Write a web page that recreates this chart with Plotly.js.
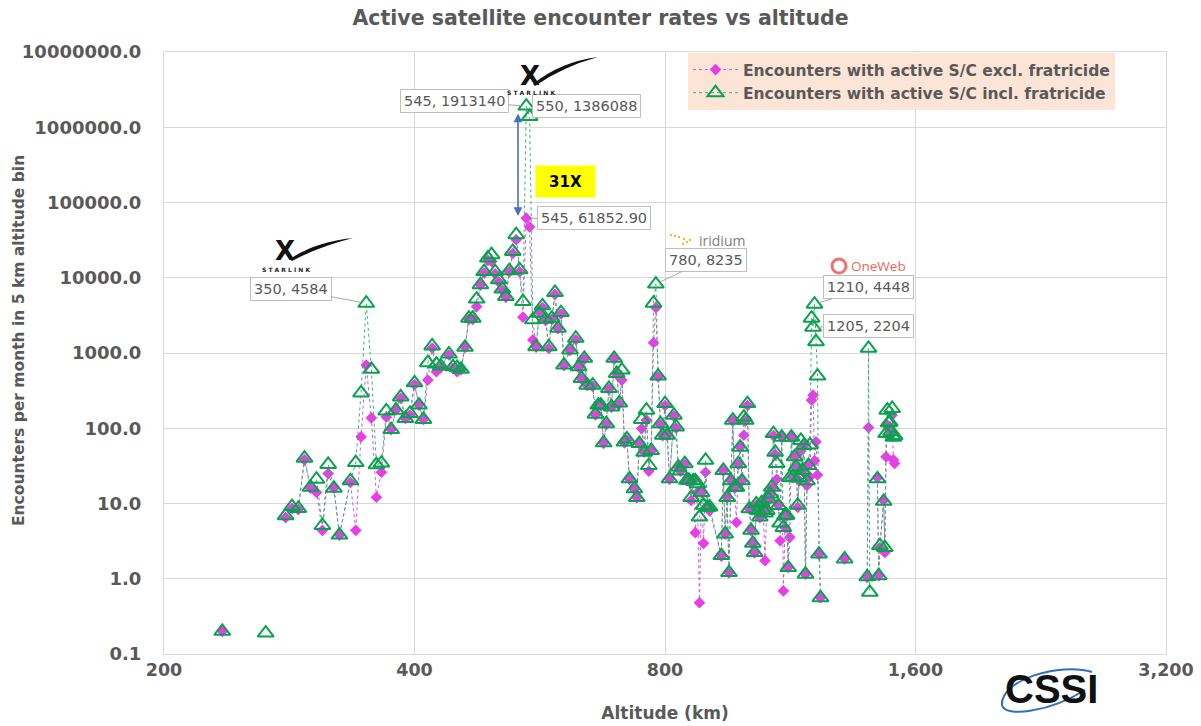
<!DOCTYPE html>
<html>
<head>
<meta charset="utf-8">
<script src="https://cdn.plot.ly/plotly-3.0.1.min.js"></script>
<style>html,body{margin:0;padding:0;background:#fff;}#chart{width:1201px;height:726px;}</style>
</head>
<body>
<div id="chart"></div>
<script>
// ---------------- DATA ----------------
const altitudeKm = [235,250,265,272,280,285,290,295,300,305,310,315,320,325,335,340,345,350,355,360,365,370,375,380,385,390,395,400,405,410,415,420,425,430,440,445,450,455,460,465,470,475,480,485,490,495,500,505,510,515,520,525,530,535,540,545,550,555,560,565,570,575,580,585,590,595,600,605,615,625,630,635,640,645,655,660,665,670,675,680,685,690,695,700,705,710,715,720,725,735,740,745,750,755,760,765,770,775,780,785,790,795,800,805,810,820,825,830,835,845,850,855,860,865,870,875,880,885,890,895,900,905,935,940,945,950,955,960,965,970,975,980,985,990,995,1000,1005,1010,1015,1020,1025,1030,1035,1040,1045,1050,1055,1060,1065,1070,1075,1080,1085,1090,1095,1100,1105,1110,1115,1120,1125,1130,1135,1140,1145,1150,1155,1160,1165,1170,1175,1180,1185,1190,1195,1200,1205,1210,1215,1220,1225,1230,1270,1315,1360,1400,1405,1410,1425,1440,1445,1450,1465,1470,1475,1480,1485,1490,1495,1500,1505,1510];

const exclFratricide = [0.2,null,null,null,6.5,8.6,8.3,38,16,14,4.4,25,16,3.8,19,4.4,77,692,137,12.1,26,141,96,175,250,135,150,380,203,131,437,1166,565,640,940,620,565,600,1190,2800,2800,4140,8000,11500,17000,16500,11300,8800,6800,5500,12000,21000,32000,12000,2990,61852.90,47400,1490,1200,3500,4000,2700,1150,2800,6000,2100,3300,680,1080,1500,640,450,830,370,360,150,200,200,63,112,330,190,830,520,210,437,64,70,21,15.5,12,62,99,48,128,27,50,1370,4000,480,112,80,200,80,21,145,100,30,27,33,20,20,11,20,4.1,14,0.48,14,2.96,26,8.9,8,2,27,3.9,12,1.2,20,125,16,5.6,33,56,20,80.7,125,200,8.5,4.4,2.9,2.2,9.5,8,6.5,10,8,1.74,8,11,13,16,80,45,21,9.4,3.2,76,0.69,4.8,6.9,1.41,3.55,76,22,41,30,8.9,20,50,27,59,1.15,17.4,32,22.5,236,275,37,66,24,2.1,0.56,null,1.83,null,1.04,102,null,null,22,1.1,2.6,11,2.24,41.7,110,100,105,85,150,38,34];

const inclFratricide = [0.2,null,0.19,null,6.9,9.1,8.6,40,16.5,21,5.1,33,16,3.8,20,35,295,4584,607,32.8,34.5,170,96,174,261,135,157,402,203,131,744,1240,713,670,970,656,645,607,1190,2900,2900,5200,8070,12100,18300,20280,12100,9400,7070,5640,12400,22400,37400,12800,4830,1913140,1386088,2760,1214,3380,4230,2810,1214,2900,6370,2135,3440,692,1100,1570,656,460,850,374,374,154,203,203,64,115,338,192,850,536,217,593,65.6,72,21.3,15.7,12,62.5,131,48,174,32,50.6,4600,8235,493,115,80.7,213,80.7,21.3,149,104,30.5,27,33.8,20.3,20.3,12,20,20,18.3,6.6,14,9.5,37.5,8.9,9,2.03,27.5,3.94,12,1.21,20,128,16.5,16.5,33.8,56,20,141,128,213,8.5,4.4,2.96,2.24,9.9,8.1,6.6,10.2,8.1,7.5,8.1,11.5,13.4,16.5,85,48,34,9.4,5.5,76,4.8,6.9,7,1.41,22,76,22.5,41.7,30.5,9.5,22,69,27.5,59,1.15,20,32,60,2900,2204,4448,1415,493,2.13,0.56,null,1.83,null,1.06,1155,0.66,null,21.3,1.1,2.75,10.7,2.6,85,174,118,121,90,183,76,80];

const seriesNames = ['Encounters with active S/C excl. fratricide', 'Encounters with active S/C incl. fratricide'];

const xTickVals = [200, 400, 800, 1600, 3200];
const xTickText = ['200', '400', '800', '1,600', '3,200'];
const yTickVals = [0.1, 1, 10, 100, 1000, 10000, 100000, 1000000, 10000000];
const yTickText = ['0.1', '1.0', '10.0', '100.0', '1000.0', '10000.0', '100000.0', '1000000.0', '10000000.0'];

// labelled points: altitude + which series
const calloutAlt = [545, 550, 545, 350, 780, 1210, 1205];
const calloutSeries = ['incl', 'incl', 'excl', 'incl', 'incl', 'incl', 'incl'];

// ---------------- STYLE / LAYOUT ----------------
const calloutOffset = [[-72,-5],[57,-11],[68,0],[-75,-14],[50,-24],[54,-17],[55,-1]];
const GRAY = '#595959';
const PL = 164, PR = 1166, PT = 52, PB = 654;
const px = x => (x - PL) / (PR - PL);
const py = y => (PB - y) / (PB - PT);

const traceExcl = {
  x: altitudeKm, y: exclFratricide, name: seriesNames[0], type: 'scatter', mode: 'lines+markers',
  line: {color: '#c95ad6', width: 1, dash: 'dot'},
  marker: {symbol: 'diamond', size: 9, color: '#e83de8', line: {width: 0}},
  connectgaps: false, cliponaxis: false
};
const traceIncl = {
  x: altitudeKm, y: inclFratricide, name: seriesNames[1], type: 'scatter', mode: 'lines+markers',
  line: {color: '#3bb273', width: 1, dash: 'dot'},
  marker: {symbol: 'triangle-up-open', size: 14, color: '#0aa24f', line: {width: 2, color: '#0aa24f'}},
  connectgaps: false, cliponaxis: false
};

const annotations = [];
calloutAlt.forEach((a, i) => {
  const idx = altitudeKm.indexOf(a);
  const isExcl = calloutSeries[i] === 'excl';
  const v = isExcl ? exclFratricide[idx] : inclFratricide[idx];
  const txt = a + ', ' + (isExcl ? v.toFixed(2) : String(v));
  annotations.push({
    x: Math.log10(a), y: Math.log10(v), xref: 'x', yref: 'y',
    text: txt, showarrow: true, arrowhead: 0, arrowwidth: 1, arrowcolor: '#a6a6a6',
    ax: calloutOffset[i][0], ay: calloutOffset[i][1], standoff: 5,
    font: {family: 'DejaVu Sans', size: 14.5, color: GRAY},
    bgcolor: '#ffffff', bordercolor: '#bfbfbf', borderwidth: 1, borderpad: 3
  });
});

// 31X box
annotations.push({xref:'paper', yref:'paper', x: px(565.5), y: py(165), text: '<b>31X</b>', showarrow: false,
  font: {family: 'DejaVu Sans', size: 15, color: '#000'}, bgcolor: '#ffff00', width: 57, height: 29, valign: 'middle'});
// double arrow
annotations.push({xref:'paper', yref:'paper', x: px(518), y: py(216), ax: 0, ay: -104, text: '', showarrow: true,
  arrowhead: 2, arrowside: 'end+start', arrowsize: 1.1, arrowwidth: 1.6, arrowcolor: '#4472c4', standoff: 0, startstandoff: 0});
// y axis title
annotations.push({xref:'paper', yref:'paper', x: px(19), y: py(341), text: '<b>Encounters per month in 5 km altitude bin</b>',
  textangle: -90, showarrow: false, font: {family: 'DejaVu Sans', size: 15.5, color: GRAY}, xanchor: 'center', yanchor: 'middle'});
// logos as text
const logoText = [
  {x: 530, y: 76, t: '<b>X</b>', s: 26, c: '#111', f: 'DejaVu Sans'},
  {x: 531, y: 93, t: '<b>S T A R L I N K</b>', s: 6, c: '#222', f: 'DejaVu Sans'},
  {x: 285, y: 251, t: '<b>X</b>', s: 26, c: '#111', f: 'DejaVu Sans'},
  {x: 286, y: 269, t: '<b>S T A R L I N K</b>', s: 6, c: '#222', f: 'DejaVu Sans'},
  {x: 722, y: 240, t: 'iridium', s: 14, c: '#808080', f: 'Open Sans'},
  {x: 878, y: 266, t: 'OneWeb', s: 13.5, c: '#f06464', f: 'Open Sans'},
  {x: 1051, y: 689, t: '<b>CSSI</b>', s: 40, c: '#111', f: 'Liberation Sans'}
];
logoText.forEach(l => annotations.push({xref:'paper', yref:'paper', x: px(l.x), y: py(l.y), text: l.t, showarrow: false,
  font: {family: l.f, size: l.s, color: l.c}, xanchor: 'center', yanchor: 'middle'}));

function swoosh(pts) {
  const p = pts.map(q => px(q[0]).toFixed(4) + ',' + py(q[1]).toFixed(4));
  return 'M' + p[0] + ' Q' + p[1] + ' ' + p[2] + ' Q' + p[3] + ' ' + p[4] + ' Z';
}
function ring(pts) {
  const p = pts.map(q => px(q[0]).toFixed(4) + ',' + py(q[1]).toFixed(4));
  return 'M' + p[0] + ' C' + p[1] + ' ' + p[2] + ' ' + p[3] + ' C' + p[4] + ' ' + p[5] + ' ' + p[6];
}
const shapes = [
  {type: 'path', xref: 'paper', yref: 'paper', path: swoosh([[533,84],[560,62],[598,57],[562,67],[535,86]]), fillcolor: '#111', line: {width: 0}},
  {type: 'path', xref: 'paper', yref: 'paper', path: swoosh([[290,259],[315,242],[353,238],[318,247],[292,261]]), fillcolor: '#111', line: {width: 0}},
  {type: 'circle', xref: 'paper', yref: 'paper', x0: px(832), x1: px(846), y0: py(273), y1: py(259), line: {color: '#f07272', width: 3}},
  {type: 'path', xref: 'paper', yref: 'paper', path: ring([[1092,672],[1060,662],[1000,680],[1002,705],[1005,718],[1050,712],[1085,690]]), line: {color: '#2f6fbf', width: 2}}
];
const dots = [[671,235],[675,236],[679,237],[684,239],[687,242],[683,244],[690,240]];
dots.forEach(d => shapes.push({type: 'circle', xref: 'paper', yref: 'paper', x0: px(d[0]-1.2), x1: px(d[0]+1.2), y0: py(d[1]+1.2), y1: py(d[1]-1.2), fillcolor: '#e8c020', line: {width: 0}}));

const layout = {
  width: 1201, height: 726,
  margin: {l: PL, r: 1201 - PR, t: PT, b: 726 - PB, pad: 0},
  paper_bgcolor: '#ffffff', plot_bgcolor: '#ffffff',
  title: {text: '<b>Active satellite encounter rates vs altitude</b>', x: 0.5, xref: 'container', xanchor: 'center',
    y: 1 - 18 / 726, yref: 'container', yanchor: 'middle', font: {family: 'DejaVu Sans', size: 20.5, color: GRAY}},
  xaxis: {
    type: 'log', range: [Math.log10(200), Math.log10(3200)], tickvals: xTickVals, ticktext: xTickText,
    tickfont: {family: 'DejaVu Sans', size: 17.5, color: GRAY, weight: 'bold'},
    showgrid: true, gridcolor: '#d9d9d9', gridwidth: 1, zeroline: false,
    showline: true, linecolor: '#d9d9d9', linewidth: 1, mirror: true,
    ticks: '', ticklen: 0,
    title: {text: '<b>Altitude (km)</b>', font: {family: 'DejaVu Sans', size: 17, color: GRAY}, standoff: 28}
  },
  yaxis: {
    type: 'log', range: [-1, 7], tickvals: yTickVals, ticktext: yTickText,
    tickfont: {family: 'DejaVu Sans', size: 18, color: GRAY, weight: 'bold'},
    showgrid: true, gridcolor: '#d9d9d9', gridwidth: 1, zeroline: false,
    showline: true, linecolor: '#d9d9d9', linewidth: 1, mirror: true,
    ticks: 'outside', ticklen: 18, tickcolor: 'rgba(0,0,0,0)', automargin: false
  },
  showlegend: true,
  legend: {x: px(688), y: py(53), xanchor: 'left', yanchor: 'top', bgcolor: '#fce4d6', borderwidth: 0,
    font: {family: 'DejaVu Sans', size: 15.5, color: GRAY, weight: 'bold'}, itemwidth: 45, tracegroupgap: 0},
  annotations: annotations,
  shapes: shapes
};

Plotly.newPlot('chart', [traceExcl, traceIncl], layout, {displayModeBar: false, staticPlot: true});
</script>
</body>
</html>
